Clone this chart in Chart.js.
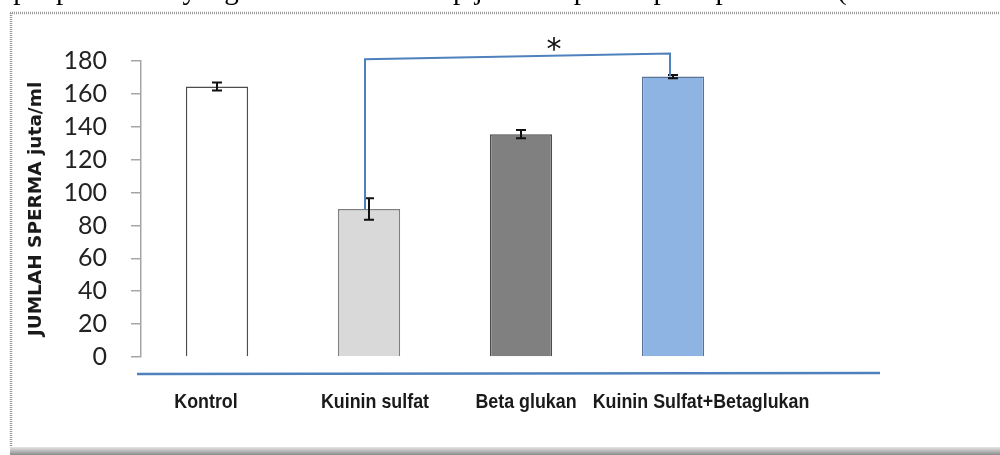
<!DOCTYPE html>
<html>
<head>
<meta charset="utf-8">
<script src="https://cdn.jsdelivr.net/npm/chart.js@4.4.1/dist/chart.umd.min.js"></script>
<style>
    body { margin: 0; width: 1000px; height: 455px; overflow: hidden; background: #fff; position: relative; }
    #doc-line {
        position: absolute; left: -14px; top: -27px; white-space: nowrap;
        font-family: "Liberation Serif", "DejaVu Serif", serif; font-size: 29px; color: #000;
    }
    #chart { position: absolute; left: 0; top: 0; }
</style>
</head>
<body>
<canvas id="chart" width="1000" height="455"></canvas>
<div id="doc-line">dapat perbedaan yang bermakna terhadap jumlah sperma pada perlakuan (Kuinin sulfat</div>
<script>
const categories = ["Kontrol", "Kuinin sulfat", "Beta glukan", "Kuinin Sulfat+Betaglukan"];
const spermCount = [164.5, 90, 135.5, 170.5];
const spermError = [2.5, 6.5, 2.5, 1];
const yTicks = [0, 20, 40, 60, 80, 100, 120, 140, 160, 180];

// significance bracket between "Kuinin sulfat" and the combination group
const bracketPair = [1, 3];
const bracketLevel = [181, 184.5];

const barFill = ["#ffffff", "#d9d9d9", "#808080", "#8eb4e3"];
const barEdge = ["#4d4d4d", "#7f7f7f", "#4d4d4d", "#5a7397"];
const labelShift = [-11, 6, 5, 28];
const BLUE = "#4f81bd";

const decorPlugin = {
    id: "decor",
    beforeDraw(chart) {
        const ctx = chart.ctx;
        ctx.save();
        ctx.fillStyle = "#fff";
        ctx.fillRect(0, 0, chart.width, chart.height);

        // dotted frame of the embedded picture
        ctx.strokeStyle = "#9a9a9a";
        ctx.lineWidth = 2.5;
        ctx.setLineDash([1, 1]);
        ctx.beginPath();
        ctx.moveTo(10, 13);
        ctx.lineTo(1000, 13);
        ctx.moveTo(11, 13);
        ctx.lineTo(11, 448);
        ctx.stroke();
        ctx.setLineDash([]);

        const g = ctx.createLinearGradient(0, 447, 0, 455);
        g.addColorStop(0, "#e6e6e6");
        g.addColorStop(1, "#8c8c8c");
        ctx.fillStyle = g;
        ctx.fillRect(10, 447, 990, 8);
        ctx.restore();
    },
    afterDatasetsDraw(chart) {
        const ctx = chart.ctx;
        const xs = chart.scales.x;
        const ys = chart.scales.y;
        ctx.save();

        // error bars
        ctx.strokeStyle = "#111";
        ctx.lineWidth = 2;
        spermCount.forEach((v, i) => {
            const x = xs.getPixelForValue(i);
            const top = ys.getPixelForValue(v + spermError[i]);
            const bot = ys.getPixelForValue(v - spermError[i]);
            ctx.beginPath();
            ctx.moveTo(x, top);
            ctx.lineTo(x, bot);
            ctx.moveTo(x - 5, top);
            ctx.lineTo(x + 5, top);
            ctx.moveTo(x - 5, bot);
            ctx.lineTo(x + 5, bot);
            ctx.stroke();
        });

        // bracket
        const [a, b] = bracketPair;
        const xa = xs.getPixelForValue(a) - 4;
        const xb = xs.getPixelForValue(b) - 3;
        const ya = ys.getPixelForValue(bracketLevel[0]);
        const yb = ys.getPixelForValue(bracketLevel[1]);
        ctx.strokeStyle = BLUE;
        ctx.lineWidth = 2;
        ctx.beginPath();
        ctx.moveTo(xa, ys.getPixelForValue(spermCount[a]));
        ctx.lineTo(xa, ya);
        ctx.lineTo(xb, yb);
        ctx.lineTo(xb, ys.getPixelForValue(spermCount[b]));
        ctx.stroke();

        ctx.fillStyle = "#111";
        ctx.font = "30px 'DejaVu Sans'";
        ctx.textAlign = "center";
        ctx.textBaseline = "middle";
        ctx.fillText("*", xa + (xb - xa) * 0.62, yb - 2);

        // blue baseline under the bars
        const y0 = ys.getPixelForValue(0) + 17;
        ctx.strokeStyle = BLUE;
        ctx.lineWidth = 2.5;
        ctx.beginPath();
        ctx.moveTo(xs.left - 4, y0);
        ctx.lineTo(880, y0 - 1);
        ctx.stroke();

        // category labels, squeezed to look like a condensed face
        ctx.fillStyle = "#1a1a1a";
        ctx.font = "bold 21px 'Liberation Sans', Arial, sans-serif";
        const squeeze = 0.85;
        categories.forEach((c, i) => {
            const x = xs.getPixelForValue(i) + labelShift[i];
            ctx.save();
            ctx.translate(x, ys.getPixelForValue(0) + 45);
            ctx.scale(squeeze, 1);
            ctx.fillText(c, 0, 0);
            ctx.restore();
        });
        ctx.restore();
    }
};

new Chart(document.getElementById("chart"), {
    type: "bar",
    data: {
        labels: categories,
        datasets: [{
            data: spermCount,
            backgroundColor: barFill,
            borderColor: barEdge,
            borderWidth: 1.5,
            barPercentage: 0.41,
            categoryPercentage: 1
        }]
    },
    options: {
        responsive: false,
        animation: false,
        layout: { padding: { left: 21, right: 251, top: 61, bottom: 98 } },
        plugins: { legend: { display: false }, tooltip: { enabled: false } },
        scales: {
            x: { display: false },
            y: {
                min: 0,
                max: 180,
                afterFit: s => { s.width = 120; },
                afterBuildTicks: s => { s.ticks = yTicks.map(v => ({ value: v })); },
                border: { color: "#a6a6a6", width: 1.5 },
                grid: { drawOnChartArea: false, color: "#a6a6a6", tickLength: 10, lineWidth: 1.5 },
                ticks: {
                    autoSkip: false,
                    padding: 24,
                    color: "#222",
                    font: { family: "Lato", size: 25 }
                },
                title: {
                    display: true,
                    text: "JUMLAH SPERMA juta/ml",
                    color: "#1a1a1a",
                    font: { family: "DejaVu Sans", weight: "bold", size: 18.5 },
                    padding: { top: 4, bottom: 0 }
                }
            }
        }
    },
    plugins: [decorPlugin]
});
</script>
</body>
</html>
